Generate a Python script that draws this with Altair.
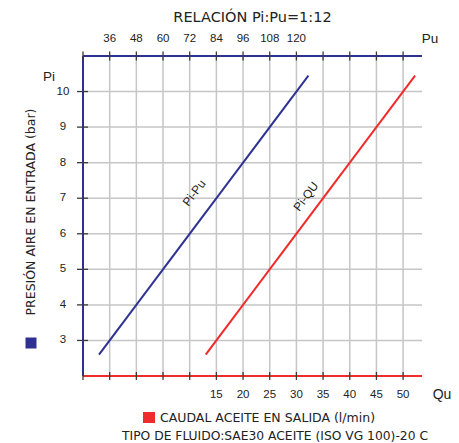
import altair as alt
import pandas as pd

# ---- data ----
pu_grid = [24, 36, 48, 60, 72, 84, 96, 108, 120, 132, 144, 156, 168]
pu_labels = [36, 48, 60, 72, 84, 96, 108, 120]
qu_labels = [15, 20, 25, 30, 35, 40, 45, 50]
pi_ticks = [3, 4, 5, 6, 7, 8, 9, 10]

line_pi = [2.6, 10.45]
line_pu = [31.2, 125.4]
line_qu = [13.0, 52.25]

pu_label_pos = {"pu": 74.0, "pi": 7.15, "text": "Pi-Pu"}
qu_label_pos = {"qu": 31.8, "pi": 7.05, "text": "Pi-QU"}

W, H = 339, 320
PU_DOM = [24, 176.5]
QU_DOM = [-10, 53.55]
PI_DOM = [2, 11]

FONT = "Liberation Sans"
WFONT = "DejaVu Sans"
BLUE = "#2e3192"
RED = "#f02b2b"
GRID = "#c6c6c6"
TICK = "#3a3a3a"
TXT = "#222222"

xpu = alt.X("pu:Q", scale=alt.Scale(domain=PU_DOM, nice=False, zero=False), axis=None)
xqu = alt.X("qu:Q", scale=alt.Scale(domain=QU_DOM, nice=False, zero=False), axis=None)
ypi = alt.Y("pi:Q", scale=alt.Scale(domain=PI_DOM, nice=False, zero=False), axis=None)

grid_df = pd.DataFrame({"pu": pu_grid})
pi_df = pd.DataFrame({"pi": pi_ticks})
pul_df = pd.DataFrame({"pu": pu_labels})
qul_df = pd.DataFrame({"qu": qu_labels})
pu_line_df = pd.DataFrame({"pu": line_pu, "pi": line_pi})
qu_line_df = pd.DataFrame({"qu": line_qu, "pi": line_pi})

vgrid = alt.Chart(grid_df).transform_filter("datum.pu > 24").mark_rule(
    color=GRID, strokeWidth=1.5).encode(x=xpu)
hgrid = alt.Chart(pi_df).mark_rule(color=GRID, strokeWidth=1.5).encode(y=ypi)

top_line = alt.Chart(pi_df).mark_rule(color=BLUE, strokeWidth=2).encode(
    x=alt.value(0), x2=alt.value(W), y=alt.value(0))
bottom_line = alt.Chart(pi_df).mark_rule(color=RED, strokeWidth=2).encode(
    x=alt.value(0), x2=alt.value(W), y=alt.value(H))
left_line = alt.Chart(pi_df).mark_rule(color=BLUE, strokeWidth=1.6).encode(
    x=alt.value(0), y=alt.value(0), y2=alt.value(H))

top_ticks = alt.Chart(grid_df).mark_rule(color=TICK, strokeWidth=1.3).encode(
    x=xpu, y=alt.value(-4.5), y2=alt.value(4.5))
bottom_ticks = alt.Chart(grid_df).mark_rule(color=TICK, strokeWidth=1.3).encode(
    x=xpu, y=alt.value(H - 4), y2=alt.value(H + 4))
left_ticks = alt.Chart(pi_df).mark_rule(color=TICK, strokeWidth=1.3).encode(
    y=ypi, x=alt.value(-6), x2=alt.value(5))

pu_line = alt.Chart(pu_line_df).mark_line(color=BLUE, strokeWidth=2).encode(x=xpu, y=ypi)
qu_line = alt.Chart(qu_line_df).mark_line(color=RED, strokeWidth=2).encode(x=xqu, y=ypi)

pu_text = alt.Chart(pul_df).mark_text(font=FONT, fontSize=11.5, color=TXT, baseline="middle").encode(
    x=xpu, y=alt.value(-17), text="pu:Q")
qu_text = alt.Chart(qul_df).mark_text(font=FONT, fontSize=11.5, color=TXT, baseline="middle").encode(
    x=xqu, y=alt.value(H + 19), text="qu:Q")
pi_text = alt.Chart(pi_df).mark_text(font=FONT, fontSize=11.5, color=TXT, baseline="middle", align="center").encode(
    y=ypi, x=alt.value(-20), text="pi:Q")

lab_pu = alt.Chart(pd.DataFrame([pu_label_pos])).mark_text(
    font=FONT, fontSize=12, color=TXT, angle=307, baseline="middle").encode(x=xpu, y=ypi, text="text:N")
lab_qu = alt.Chart(pd.DataFrame([qu_label_pos])).mark_text(
    font=FONT, fontSize=12, color=TXT, angle=307, baseline="middle").encode(x=xqu, y=ypi, text="text:N")


def txt(s, x, y, size=13, align="center", angle=0, font=WFONT):
    return alt.Chart(pd.DataFrame({"t": [s]})).mark_text(
        font=font, fontSize=size, color=TXT, align=align, baseline="middle", angle=angle
    ).encode(x=alt.value(x), y=alt.value(y), text="t:N")


title = txt("RELACIÓN Pi:Pu=1:12", W / 2, -38.5, 14.5)
pu_name = txt("Pu", 347, -17, 13.5, font=FONT)
qu_name = txt("Qu", 359, H + 19, 14, font=FONT)
pi_name = txt("Pi", -34, 21, 13.5, font=FONT)
ytitle = txt("PRESIÓN AIRE EN ENTRADA (bar)", -52, 156, 12.5, angle=270)
legend_red = txt("CAUDAL ACEITE EN SALIDA (l/min)", 77, H + 42, 12.5, align="left")
fluid = txt("TIPO DE FLUIDO:SAE30 ACEITE (ISO VG 100)-20 C", 192, H + 60, 12.3)

blue_sq = alt.Chart(pi_df.head(1)).mark_rect(color=BLUE).encode(
    x=alt.value(-57.5), x2=alt.value(-46.5), y=alt.value(281.5), y2=alt.value(292.5))
red_sq = alt.Chart(pi_df.head(1)).mark_rect(color=RED).encode(
    x=alt.value(60), x2=alt.value(72), y=alt.value(H + 36), y2=alt.value(H + 47))

chart = alt.layer(
    vgrid, hgrid, top_line, bottom_line, left_line,
    top_ticks, bottom_ticks, left_ticks,
    pu_line, qu_line,
    pu_text, qu_text, pi_text, lab_pu, lab_qu,
    title, pu_name, qu_name, pi_name, ytitle, legend_red, fluid, blue_sq, red_sq,
).resolve_scale(x="independent").properties(
    width=W, height=H,
    autosize=alt.AutoSizeParams(type="none"),
    padding={"left": 75, "top": 48, "right": 29, "bottom": 66},
).configure_view(stroke=None)

chart.save("out.html", embed_options={"renderer": "svg", "actions": False})
